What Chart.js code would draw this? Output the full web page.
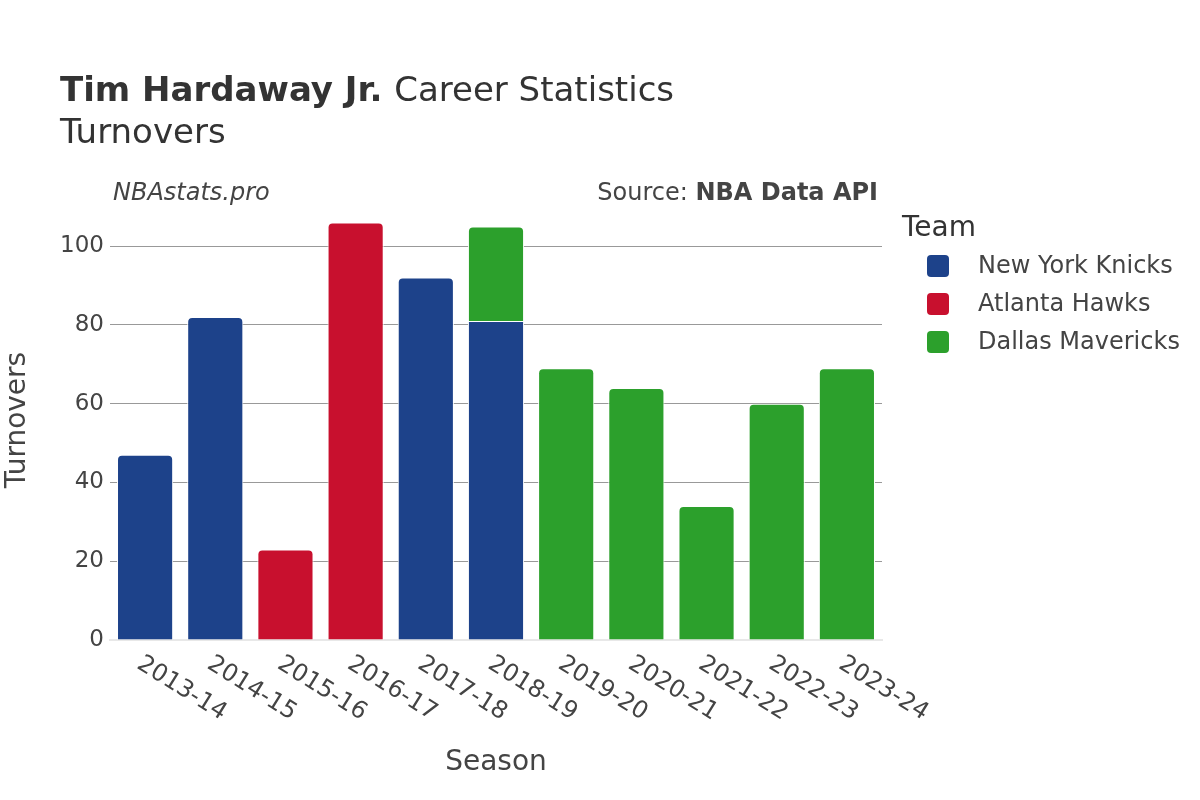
<!DOCTYPE html>
<html>
<head>
<meta charset="utf-8">
<script src="https://cdn.jsdelivr.net/npm/chart.js@4.4.0/dist/chart.umd.min.js"></script>
<style>
  html, body { margin: 0; padding: 0; background: #fff; }
  #wrap { width: 1200px; height: 800px; }
</style>
</head>
<body>
<div id="wrap"><canvas id="chart" width="1200" height="800"></canvas></div>
<script>
var seasons = ['2013-14', '2014-15', '2015-16', '2016-17', '2017-18', '2018-19',
    '2019-20', '2020-21', '2021-22', '2022-23', '2023-24'];
var teams = ['New York Knicks', 'Atlanta Hawks', 'Dallas Mavericks'];
var teamColors = ['#1D428A', '#C8102E', '#2CA02C'];
var knicks = [47, 82, null, null, 92, 81, null, null, null, null, null];
var hawks = [null, null, 23, 106, null, null, null, null, null, null, null];
var mavs = [null, null, null, null, null, 24, 69, 64, 34, 60, 69];
var yTicks = [0, 20, 40, 60, 80, 100];

var font = '"DejaVu Sans", sans-serif';
var textColor = '#444';

// titles, legend and slanted season labels
var decorations = {
    id: 'decorations',
    afterDraw(chart) {
        const ctx = chart.ctx;
        const area = chart.chartArea;
        ctx.save();
        ctx.fillStyle = '#333';
        ctx.textBaseline = 'alphabetic';
        ctx.textAlign = 'left';
        ctx.font = 'bold 34px ' + font;
        ctx.fillText('Tim Hardaway Jr.', 60, 101);
        const w = ctx.measureText('Tim Hardaway Jr. ').width;
        ctx.font = '34px ' + font;
        ctx.fillText('Career Statistics', 60 + w, 101);
        ctx.fillText('Turnovers', 60, 143);

        ctx.fillStyle = textColor;
        ctx.font = 'italic 24px ' + font;
        ctx.fillText('NBAstats.pro', 113, 200);
        ctx.textAlign = 'right';
        ctx.font = 'bold 24px ' + font;
        ctx.fillText('NBA Data API', 878, 200);
        const bw = ctx.measureText('NBA Data API').width;
        ctx.font = '24px ' + font;
        ctx.fillText('Source: ', 878 - bw, 200);

        // axis titles
        ctx.textAlign = 'center';
        ctx.font = '28px ' + font;
        ctx.fillText('Season', (area.left + area.right) / 2, 770);
        ctx.save();
        ctx.translate(18, (area.top + area.bottom) / 2);
        ctx.rotate(-Math.PI / 2);
        ctx.textBaseline = 'middle';
        ctx.fillText('Turnovers', 0, 0);
        ctx.restore();

        // season labels
        const xs = chart.scales.x;
        ctx.font = '24px ' + font;
        ctx.textAlign = 'left';
        ctx.textBaseline = 'middle';
        seasons.forEach(function(s, i) {
            const x = xs.getPixelForValue(i);
            ctx.save();
            ctx.translate(x - 6, area.bottom + 22);
            ctx.rotate(32 * Math.PI / 180);
            ctx.fillText(s, 0, 0);
            ctx.restore();
        });

        // legend
        ctx.textAlign = 'left';
        ctx.textBaseline = 'alphabetic';
        ctx.font = '28px ' + font;
        ctx.fillStyle = '#333';
        ctx.fillText('Team', 902, 236);
        ctx.font = '24px ' + font;
        teams.forEach(function(t, i) {
            const y = 266 + i * 38;
            ctx.fillStyle = teamColors[i];
            ctx.beginPath();
            ctx.roundRect(927, y - 11, 22, 22, 4);
            ctx.fill();
            ctx.fillStyle = textColor;
            ctx.textBaseline = 'middle';
            ctx.fillText(t, 978, y + 1);
        });
        ctx.restore();
    }
};

var datasets = [knicks, hawks, mavs].map(function(vals, i) {
    return {
        label: teams[i],
        data: vals,
        backgroundColor: teamColors[i],
        borderColor: '#ffffff',
        borderWidth: 1,
        borderSkipped: 'start',
        borderRadius: 5,
        barPercentage: 0.8,
        categoryPercentage: 1.0
    };
});

new Chart(document.getElementById('chart').getContext('2d'), {
    type: 'bar',
    data: { labels: seasons, datasets: datasets },
    plugins: [decorations],
    options: {
        responsive: false,
        animation: false,
        layout: { padding: { top: 200, right: 318, left: 0, bottom: 0 } },
        plugins: { legend: { display: false }, tooltip: { enabled: false } },
        scales: {
            x: {
                stacked: true,
                grid: { display: false },
                border: { display: true, color: '#e8e8e8', width: 2 },
                ticks: { display: false },
                afterFit(scale) { scale.height = 160; }
            },
            y: {
                stacked: true,
                min: 0,
                max: 111.7,
                afterBuildTicks(scale) {
                    scale.ticks = yTicks.map(function(v) { return { value: v }; });
                },
                afterFit(scale) { scale.width = 110; },
                border: { display: false },
                grid: {
                    color: function(c) { return c.tick && c.tick.value === 0 ? 'rgba(0,0,0,0)' : '#999'; },
                    lineWidth: 1,
                    drawTicks: false
                },
                ticks: {
                    color: textColor,
                    font: { family: font, size: 23 },
                    padding: 6
                }
            }
        }
    }
});
</script>
</body>
</html>
